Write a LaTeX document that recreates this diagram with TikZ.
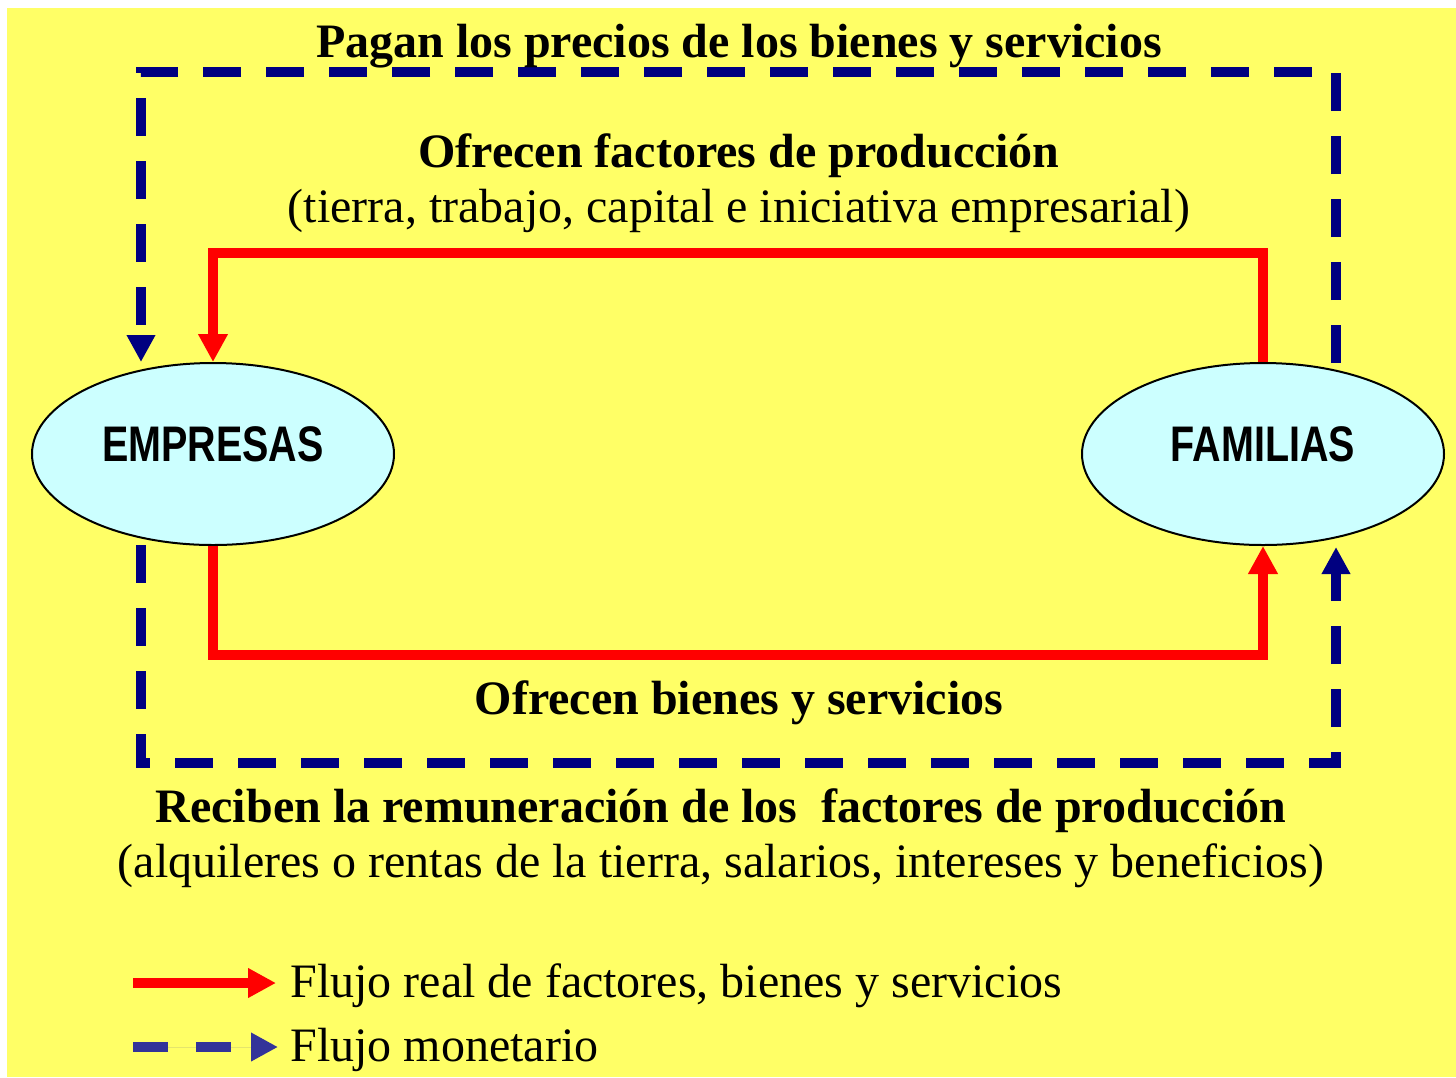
\documentclass[tikz,border=0pt]{standalone}
\usepackage{fontspec}
\setmainfont{Liberation Serif}
\newfontfamily\arialfont{Liberation Sans}
\usetikzlibrary{arrows.meta,shapes.geometric}
\definecolor{bgyellow}{HTML}{FFFF66}
\definecolor{ellfill}{HTML}{CCFFFF}
\definecolor{navyline}{HTML}{000080}
\definecolor{legblue}{HTML}{333399}
\tikzset{
  realflow/.style={draw=red, line width=4.8pt, line join=miter,
    -{Triangle[length=14pt,width=14pt]}},
  moneyflow/.style={draw=navyline, line width=5pt, dash pattern=on 19pt off 12.5pt,
    -{Triangle[length=13.5pt,width=13.5pt]}},
  agent/.style={ellipse, draw=black, line width=1pt, fill=ellfill, inner sep=0pt,
    minimum width=181pt, minimum height=91pt,
    font=\arialfont\bfseries\fontsize{25}{29}\selectfont},
  boldlabel/.style={anchor=base, inner sep=0pt, font=\bfseries\fontsize{24}{28}\selectfont},
  plainlabel/.style={anchor=base, inner sep=0pt, font=\fontsize{24}{28}\selectfont},
  leglabel/.style={anchor=base west, inner sep=0pt, font=\fontsize{24}{28}\selectfont}
}
\begin{document}
\begin{tikzpicture}[x=0.5pt,y=-0.5pt]
\useasboundingbox (0,0) rectangle (1456,1077);
\fill[white] (0,0) rectangle (1456,1077);
\fill[bgyellow] (7,8) rectangle (1456,1077);

% agents
\node[agent] (emp) at (213,454) {\raisebox{10pt}{\scalebox{0.79}[1]{EMPRESAS}}};
\node[agent] (fam) at (1263,454) {\raisebox{10pt}{\scalebox{0.79}[1]{FAMILIAS}}};

% free ends of the money flows
\coordinate (mtopstart) at (1336,363);
\coordinate (mtopend) at (141,362);
\coordinate (mbotstart) at (141,545);
\coordinate (mbotend) at (1336,547);

% real flows
\draw[realflow] (fam.north) -- (fam.north |- 0,253) -- (emp.north |- 0,253) -- (emp.north);
\draw[realflow] (emp.south) -- (emp.south |- 0,655) -- (fam.south |- 0,655) -- (fam.south);

% money flows
\draw[moneyflow] (mtopstart) -- (mtopstart |- 0,72) -- (mtopend |- 0,72) -- (mtopend);
\draw[moneyflow] (mbotstart) -- (mbotstart |- 0,763) -- (mbotend |- 0,763) -- (mbotend);

% labels
\node[boldlabel] (pagan) at (739,57) {Pagan los precios de los bienes y servicios};
\node[boldlabel] (ofrf) at (739,167) {Ofrecen factores de producción};
\node[plainlabel] (tierra) at (739,222) {(tierra, trabajo, capital e iniciativa empresarial)};
\node[boldlabel] (ofrb) at (739,714) {Ofrecen bienes y servicios};
\node[boldlabel] (reciben) at (721,822) {Reciben la remuneración de los\ \ factores de producción};
\node[plainlabel] (alq) at (721,877) {(alquileres o rentas de la tierra, salarios, intereses y beneficios)};

% legend
\coordinate (lra) at (133,983);
\coordinate (lrb) at (276,983);
\draw[realflow] (lra) -- (lrb);
\node[leglabel] (lrtext) at (290,997) {Flujo real de factores, bienes y servicios};
\coordinate (lma) at (133,1047);
\coordinate (lmb) at (278,1047);
\draw[moneyflow, draw=legblue, fill=legblue, dash pattern=on 17.5pt off 14pt] (lma) -- (lmb);
\node[leglabel] (lmtext) at (290,1061) {Flujo monetario};
\end{tikzpicture}
\end{document}
